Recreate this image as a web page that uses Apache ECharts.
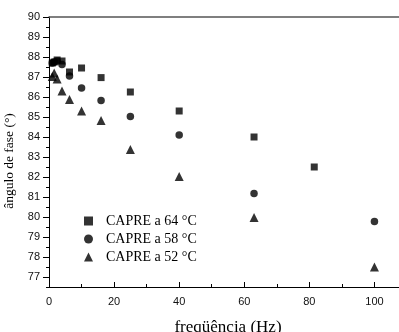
<!DOCTYPE html>
<html><head><meta charset="utf-8">
<script src="https://cdn.jsdelivr.net/npm/echarts@6/dist/echarts.min.js"></script>
<style>html,body{margin:0;padding:0;background:#fff}#c{width:399px;height:332px}</style>
</head><body><div id="c"></div>
<script>
// Data
const freq64 = [1, 1.6, 2.5, 4, 6.3, 10, 16, 25, 40, 63, 81.5];
const phase64 = [87.7, 87.75, 87.85, 87.8, 87.25, 87.45, 86.97, 86.25, 85.3, 84.0, 82.5];
const freq58 = [1, 1.6, 2.5, 4, 6.3, 10, 16, 25, 40, 63, 100];
const phase58 = [87.7, 87.75, 87.8, 87.62, 87.05, 86.45, 85.83, 85.03, 84.1, 81.17, 79.78];
const freq52 = [1, 1.6, 2.5, 4, 6.3, 10, 16, 25, 40, 63, 100];
const phase52 = [87.02, 87.2, 86.9, 86.3, 85.87, 85.3, 84.83, 83.38, 82.03, 79.97, 77.5];
const seriesNames = ['CAPRE a 64 °C', 'CAPRE a 58 °C', 'CAPRE a 52 °C'];
const yTickLabels = [77, 78, 79, 80, 81, 82, 83, 84, 85, 86, 87, 88, 89, 90];
const xTickLabels = [0, 20, 40, 60, 80, 100];

const pairs = (xs, ys) => xs.map((x, i) => [x, ys[i]]);
const chart = echarts.init(document.getElementById('c'), null, {renderer: 'canvas'});
const serif = '"Liberation Serif", "Times New Roman", serif';
const sans = '"Liberation Sans", Arial, sans-serif';
const black = '#000';
chart.setOption({
  animation: false,
  backgroundColor: '#fff',
  grid: {left: 49, top: 17, right: -8, bottom: 45, containLabel: false, outerBoundsMode: 'none'},
  legend: {
    left: 79, top: 209, orient: 'vertical', itemGap: 4,
    itemWidth: 9, itemHeight: 9,
    textStyle: {fontFamily: serif, fontSize: 14, color: black, padding: [0, 0, 0, 8]},
    data: [
      {name: seriesNames[0], icon: 'rect'},
      {name: seriesNames[1], icon: 'circle'},
      {name: seriesNames[2], icon: 'triangle'}
    ]
  },
  xAxis: [{
    type: 'value', min: 0, max: 110, interval: 10,
    name: 'freqüência (Hz)', nameLocation: 'middle', nameGap: 32,
    nameTextStyle: {fontFamily: serif, fontSize: 17, color: black},
    axisLine: {lineStyle: {color: black, width: 1}},
    axisTick: {inside: true, length: 3, lineStyle: {color: black}},
    axisLabel: {customValues: xTickLabels, margin: 9, fontFamily: sans, fontSize: 11, color: '#111'},
    splitLine: {show: false}
  }, {
    type: 'value', min: 0, max: 110, position: 'bottom',
    axisLine: {show: false},
    axisTick: {show: true, inside: true, length: 5, customValues: xTickLabels, lineStyle: {color: black}},
    axisLabel: {show: false}, splitLine: {show: false}
  }, {
    type: 'value', min: 0, max: 110, position: 'top',
    axisLine: {show: true, lineStyle: {color: '#555', width: 1.5}},
    axisTick: {show: false}, axisLabel: {show: false}, splitLine: {show: false}
  }],
  yAxis: [{
    type: 'value', min: 76.5, max: 90, interval: 0.5,
    name: 'ângulo de fase (°)', nameLocation: 'middle', nameGap: 33,
    nameTextStyle: {fontFamily: serif, fontSize: 13.5, color: black, padding: [0, 18, 0, 0]},
    axisLine: {show: true, lineStyle: {color: black, width: 1}},
    axisTick: {show: true, length: 3, lineStyle: {color: black}},
    axisLabel: {customValues: yTickLabels, margin: 9, fontFamily: sans, fontSize: 11, color: '#111'},
    splitLine: {show: false}
  }, {
    type: 'value', min: 76.5, max: 90, position: 'left',
    axisLine: {show: false},
    axisTick: {show: true, length: 6, customValues: yTickLabels, lineStyle: {color: black}},
    axisLabel: {show: false}, splitLine: {show: false}
  }],
  series: [
    {name: seriesNames[0], type: 'scatter', symbol: 'rect', symbolSize: 7,
     itemStyle: {color: black}, data: pairs(freq64, phase64)},
    {name: seriesNames[1], type: 'scatter', symbol: 'circle', symbolSize: 7.5,
     itemStyle: {color: black}, data: pairs(freq58, phase58)},
    {name: seriesNames[2], type: 'scatter', symbol: 'triangle', symbolSize: 9,
     itemStyle: {color: black}, data: pairs(freq52, phase52)}
  ]
});
</script></body></html>
